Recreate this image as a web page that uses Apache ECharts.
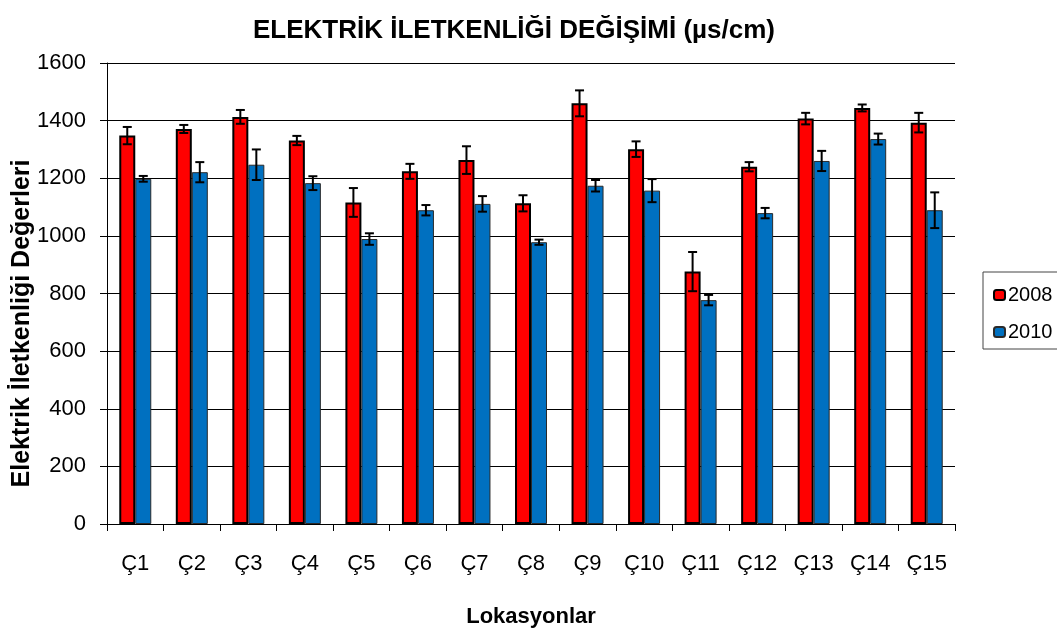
<!DOCTYPE html>
<html>
<head>
<meta charset="utf-8">
<script src="https://cdn.jsdelivr.net/npm/echarts@6/dist/echarts.min.js"></script>
<style>
html,body{margin:0;padding:0;background:#fff;}
#chart{width:1057px;height:632px;}
</style>
</head>
<body>
<div id="chart"></div>
<script>
var categories = ['Ç1','Ç2','Ç3','Ç4','Ç5','Ç6','Ç7','Ç8','Ç9','Ç10','Ç11','Ç12','Ç13','Ç14','Ç15'];
var values2008 = [1348,1371,1413,1331,1116,1224,1263,1113,1460,1301,876,1240,1407,1444,1393];
var errors2008 = [30,14,24,16,50,26,48,28,45,27,68,16,20,12,34];
var values2010 = [1198,1221,1247,1183,989,1089,1111,978,1174,1157,777,1079,1260,1336,1089];
var errors2010 = [10,35,53,24,20,18,27,9,20,40,18,18,35,19,62];
var seriesNames = ['2008','2010'];
var yTicks = [0,200,400,600,800,1000,1200,1400,1600];

var FONT = "'Liberation Sans', Arial, sans-serif";
var BAR_W = 16;

function errData(vals, errs){
  return vals.map(function(v,i){ return [i, v, errs[i]]; });
}
function errRender(offset){
  return function(params, api){
    var i = api.value(0), v = api.value(1), e = api.value(2);
    var c = api.coord([i, v]);
    var hi = api.coord([i, v + e]);
    var lo = api.coord([i, v - e]);
    var x = c[0] + offset;
    var cap = 4.5;
    var st = {stroke:'#000', lineWidth:2};
    return {type:'group', children:[
      {type:'line', shape:{x1:x, y1:hi[1], x2:x, y2:lo[1]}, style:st},
      {type:'line', shape:{x1:x-cap, y1:hi[1], x2:x+cap, y2:hi[1]}, style:st},
      {type:'line', shape:{x1:x-cap, y1:lo[1], x2:x+cap, y2:lo[1]}, style:st}
    ]};
  };
}

var chart = echarts.init(document.getElementById('chart'), null, {renderer:'canvas'});
chart.setOption({
  animation:false,
  backgroundColor:'#fff',
  title:{
    text:'ELEKTRİK İLETKENLİĞİ DEĞİŞİMİ (µs/cm)',
    left:509, textAlign:'center', top:13,
    textStyle:{fontFamily:FONT, fontSize:26, fontWeight:'bold', color:'#000'}
  },
  grid:{left:107, right:102, top:63, bottom:108, containLabel:false, outerBoundsMode:'none'},
  legend:{
    orient:'vertical', left:988, top:280,
    itemWidth:11, itemHeight:10, itemGap:17,
    textStyle:{fontFamily:FONT, fontSize:20, color:'#000', padding:[0,0,0,-2]},
    data:seriesNames
  },
  graphic:[{
    type:'rect', shape:{x:983, y:272, width:100, height:77},
    style:{fill:'none', stroke:'#444', lineWidth:1}, silent:true, z:-1
  }],
  xAxis:{
    type:'category', data:categories,
    name:'Lokasyonlar', nameLocation:'middle', nameGap:82,
    nameTextStyle:{fontFamily:FONT, fontSize:22, fontWeight:'bold', color:'#000'},
    axisLine:{lineStyle:{color:'#000', width:1}},
    axisTick:{show:true, length:7, lineStyle:{color:'#000'}},
    axisLabel:{fontFamily:FONT, fontSize:22, color:'#000', margin:29}
  },
  yAxis:{
    type:'value', min:0, max:1600, interval:200,
    name:'Elektrik İletkenliği Değerleri', nameLocation:'middle', nameRotate:90, nameGap:72,
    nameMoveOverlap:false,
    nameTextStyle:{fontFamily:FONT, fontSize:25, fontWeight:'bold', color:'#000', padding:[0,60,0,0]},
    axisLine:{show:true, lineStyle:{color:'#000', width:1}},
    axisTick:{show:true, length:7, lineStyle:{color:'#000'}},
    axisLabel:{fontFamily:FONT, fontSize:22, color:'#000', margin:21,
      formatter:function(v){ return yTicks.indexOf(v) >= 0 ? String(v) : ''; }},
    splitLine:{show:true, lineStyle:{color:'#000', width:1}}
  },
  series:[
    {name:seriesNames[0], type:'bar', data:values2008, barWidth:BAR_W, barGap:'0%',
      itemStyle:{color:'#FF0000', borderColor:'#000', borderWidth:2}},
    {name:seriesNames[1], type:'bar', data:values2010, barWidth:BAR_W, barGap:'0%',
      itemStyle:{color:'#0070C0', borderColor:'#2a2a2a', borderWidth:1}},
    {type:'custom', data:errData(values2008, errors2008), renderItem:errRender(-BAR_W/2), z:10,
      encode:{x:0, y:1}, silent:true},
    {type:'custom', data:errData(values2010, errors2010), renderItem:errRender(BAR_W/2), z:10,
      encode:{x:0, y:1}, silent:true}
  ]
});
</script>
</body>
</html>
